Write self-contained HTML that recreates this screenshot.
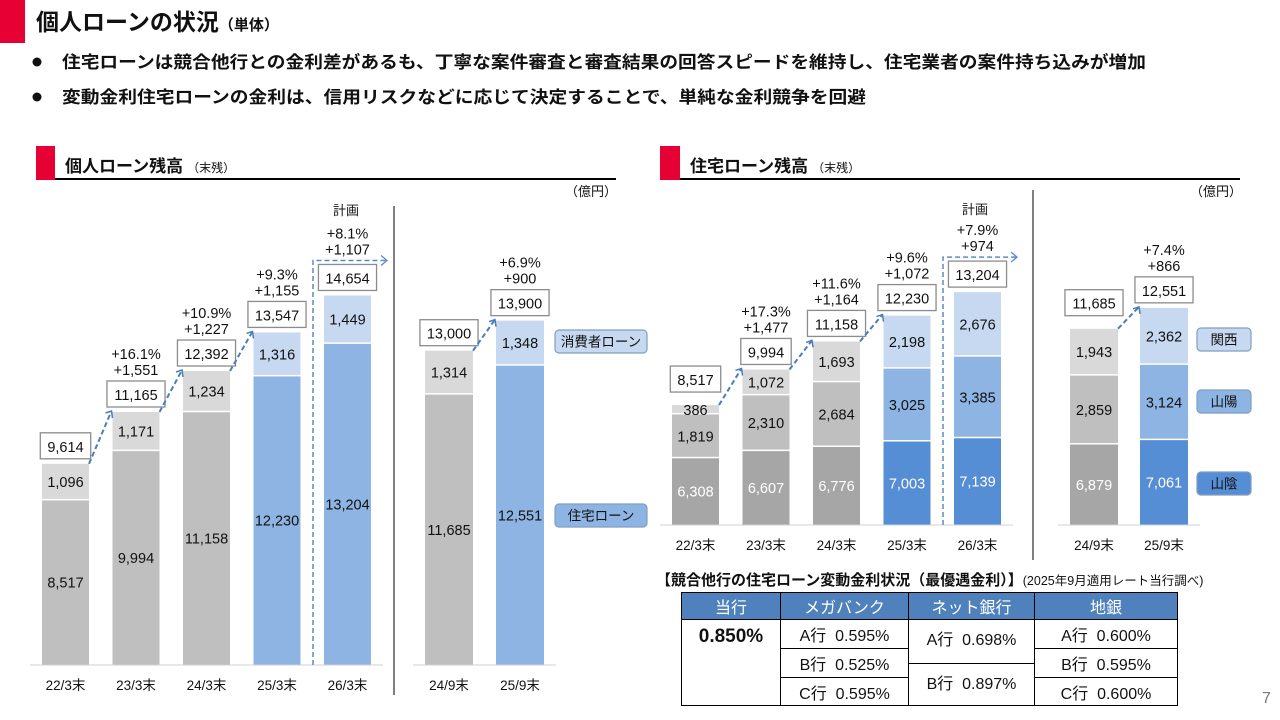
<!DOCTYPE html>
<html><head><meta charset="utf-8">
<style>
body{margin:0;width:1280px;height:720px;overflow:hidden;background:#fff;font-family:"Liberation Sans","Noto Sans CJK JP",sans-serif;}
svg{position:absolute;left:0;top:0}
.cell{position:absolute;box-sizing:border-box;border:1px solid #000;display:flex;align-items:center;justify-content:center;font-size:16px;color:#111;background:#fff}
.hd{background:#4f81bd;color:#fff;font-size:16px}
</style></head>
<body>
<svg id="s" width="1280" height="720" viewBox="0 0 1280 720" font-family="Liberation Sans, Noto Sans CJK JP, sans-serif">
<rect x="0" y="0" width="25" height="43" fill="#e60033"/>
<text x="36" y="30" font-size="23" font-weight="bold" fill="#111">個人ローンの状況<tspan font-size="15">（単体）</tspan></text>
<circle cx="37" cy="62" r="4.5" fill="#111"/>
<text x="62" y="68" font-size="17" font-weight="bold" fill="#111" textLength="1084" lengthAdjust="spacingAndGlyphs">住宅ローンは競合他行との金利差があるも、丁寧な案件審査と審査結果の回答スピードを維持し、住宅業者の案件持ち込みが増加</text>
<circle cx="37" cy="97" r="4.5" fill="#111"/>
<text x="62" y="103" font-size="17" font-weight="bold" fill="#111" textLength="804" lengthAdjust="spacingAndGlyphs">変動金利住宅ローンの金利は、信用リスクなどに応じて決定することで、単純な金利競争を回避</text>

<rect x="36" y="146" width="19" height="34" fill="#e60033"/>
<line x1="55" y1="179" x2="616" y2="179" stroke="#000" stroke-width="2"/>
<text x="65" y="172" font-size="17" font-weight="bold" fill="#111">個人ローン残高<tspan font-size="12" font-weight="normal" dx="4">（末残）</tspan></text>
<text x="617" y="196" font-size="13" text-anchor="end" fill="#111">（億円）</text>
<text x="346" y="215" font-size="13" text-anchor="middle" fill="#111">計画</text>
<line x1="394" y1="206" x2="394" y2="695" stroke="#808080" stroke-width="2"/>

<rect x="660" y="146" width="20" height="34" fill="#e60033"/>
<line x1="680" y1="179" x2="1240" y2="179" stroke="#000" stroke-width="2"/>
<text x="690" y="172" font-size="17" font-weight="bold" fill="#111">住宅ローン残高<tspan font-size="12" font-weight="normal" dx="4">（末残）</tspan></text>
<text x="1242" y="196" font-size="13" text-anchor="end" fill="#111">（億円）</text>
<text x="975" y="214" font-size="13" text-anchor="middle" fill="#111">計画</text>
<line x1="1033" y1="190" x2="1033" y2="560" stroke="#808080" stroke-width="2"/>

<text x="1262" y="703" font-size="16" fill="#777">7</text>
<text x="656" y="585" font-size="15" font-weight="bold" fill="#111">【競合他行の住宅ローン変動金利状況（最優遇金利）】<tspan font-size="12.5" font-weight="normal">(2025年9月適用レート当行調べ)</tspan></text>
</svg>

<div class="cell hd" style="left:681px;top:592px;width:100px;height:28px">当行</div>
<div class="cell hd" style="left:780px;top:592px;width:129px;height:28px">メガバンク</div>
<div class="cell hd" style="left:908px;top:592px;width:127px;height:28px">ネット銀行</div>
<div class="cell hd" style="left:1034px;top:592px;width:144px;height:28px">地銀</div>
<div class="cell" style="left:681px;top:619px;width:100px;height:87px;align-items:flex-start;padding-top:6px;font-weight:bold;font-size:19px">0.850%</div>
<div class="cell" style="left:780px;top:619px;width:129px;height:30px">A行&nbsp;&nbsp;0.595%</div>
<div class="cell" style="left:780px;top:648px;width:129px;height:30px">B行&nbsp;&nbsp;0.525%</div>
<div class="cell" style="left:780px;top:677px;width:129px;height:29px">C行&nbsp;&nbsp;0.595%</div>
<div class="cell" style="left:908px;top:619px;width:127px;height:45px;align-items:flex-start;padding-top:6px">A行&nbsp;&nbsp;0.698%</div>
<div class="cell" style="left:908px;top:663px;width:127px;height:43px;align-items:flex-start;padding-top:6px">B行&nbsp;&nbsp;0.897%</div>
<div class="cell" style="left:1034px;top:619px;width:144px;height:30px">A行&nbsp;&nbsp;0.600%</div>
<div class="cell" style="left:1034px;top:648px;width:144px;height:30px">B行&nbsp;&nbsp;0.595%</div>
<div class="cell" style="left:1034px;top:677px;width:144px;height:29px">C行&nbsp;&nbsp;0.600%</div>

<script>
// ---- Left chart data (個人ローン残高) ----
const lCats = ['22/3末','23/3末','24/3末','25/3末','26/3末'];
const lHousing = [8517, 9994, 11158, 12230, 13204];
const lConsumer = [1096, 1171, 1234, 1316, 1449];
const lTotals = [9614, 11165, 12392, 13547, 14654];
const lPct = ['+16.1%','+10.9%','+9.3%','+8.1%'];
const lAbs = ['+1,551','+1,227','+1,155','+1,107'];
const lCats2 = ['24/9末','25/9末'];
const lHousing2 = [11685, 12551];
const lConsumer2 = [1314, 1348];
const lTotals2 = [13000, 13900];
const lPct2 = ['+6.9%'];
const lAbs2 = ['+900'];
// ---- Right chart data (住宅ローン残高) ----
const rCats = ['22/3末','23/3末','24/3末','25/3末','26/3末'];
const rSanin = [6308, 6607, 6776, 7003, 7139];
const rSanyo = [1819, 2310, 2684, 3025, 3385];
const rKansai = [386, 1072, 1693, 2198, 2676];
const rTotals = [8517, 9994, 11158, 12230, 13204];
const rPct = ['+17.3%','+11.6%','+9.6%','+7.9%'];
const rAbs = ['+1,477','+1,164','+1,072','+974'];
const rCats2 = ['24/9末','25/9末'];
const rSanin2 = [6879, 7061];
const rSanyo2 = [2859, 3124];
const rKansai2 = [1943, 2362];
const rTotals2 = [11685, 12551];
const rPct2 = ['+7.4%'];
const rAbs2 = ['+866'];

const NS = 'http://www.w3.org/2000/svg';
const svg = document.getElementById('s');
function mk(tag, attrs, name){
  const el = document.createElementNS(NS, tag);
  for (const k in attrs) el.setAttribute(k, attrs[k]);
  
  
  svg.appendChild(el);
  return el;
}
function txt(x, y, s, size, fill, name, anchor, weight){
  const t = mk('text', {x:x, y:y, 'font-size':size, fill:fill, 'text-anchor':anchor||'middle', 'font-weight':weight||'normal'}, name);
  t.textContent = s;
  return t;
}
const fmt = v => v.toLocaleString('en-US');
const gray = ['#a6a6a6','#bfbfbf','#d9d9d9'];
const blue = ['#558ed5','#8eb4e3','#c6d9f1'];

function chart(cfg){
  const y = v => cfg.base - (v - cfg.v0) * cfg.k;
  const n = cfg.cats.length;
  const tops = [], boxes = [];
  for (let i = 0; i < n; i++){
    const x = cfg.x0 + i * cfg.pitch, w = cfg.bw, cx = x + w/2;
    let cum = cfg.v0, prevY = cfg.base;
    const blueBar = cfg.blueFrom !== undefined && i >= cfg.blueFrom;
    const pal = blueBar ? cfg.bluePal : cfg.grayPal;
    for (let s = 0; s < cfg.series.length; s++){
      const v = cfg.series[s][i];
      cum = (s === 0) ? v : cum + v;
      const ty = y(cum);
      mk('rect', {x:x, y:ty, width:w, height:prevY - ty - (s===0?0:1.5), fill:pal[s]}, cfg.id + '-bar-' + i + '-seg-' + s);
      const dark = (pal[s] === '#a6a6a6' || pal[s] === '#558ed5');
      txt(cx, (ty + prevY)/2 + 5, fmt(v), cfg.fs, dark ? '#fff' : '#111', cfg.id + '-value-' + i + '-' + s);
      prevY = ty;
    }
    const top = y(cfg.totals[i]);
    tops.push(top);
    const label = fmt(cfg.totals[i]);
    const bwid = Math.max(w, label.length * cfg.fs * 0.53 + 12);
    const gap = (cfg.firstGap && i === 0) ? cfg.firstGap : 5;
    const bx = cx - bwid/2, by = top - gap - 26;
    boxes.push({x:bx, y:by, w:bwid});
    mk('rect', {x:bx, y:by, width:bwid, height:26, fill:'#fff', stroke:'#8c8c8c', 'stroke-width':1.3}, cfg.id + '-total-box-' + i);
    txt(cx, by + 19, label, cfg.fs, '#111', cfg.id + '-total-' + i);
    if (i > 0){
      const isPlan = cfg.planIdx === i;
      const lift = isPlan ? 4 : 0;
      txt(cx, by - 22 - lift, cfg.pct[i-1], cfg.fs, '#111', cfg.id + '-growth-pct-' + i);
      txt(cx, by - 6 - lift, cfg.abs[i-1], cfg.fs, '#111', cfg.id + '-growth-abs-' + i);
      const px = cfg.x0 + (i-1) * cfg.pitch + w;
      if (!isPlan){
        const ex = x - 1, ey = by + 30;
        mk('line', {x1:px, y1:tops[i-1], x2:ex, y2:ey, stroke:'#4a7ebb', 'stroke-width':2, 'stroke-dasharray':'5,3'}, cfg.id + '-growth-arrow-' + i);
        mk('path', {d:'M' + (ex-6) + ',' + (ey+2) + ' L' + ex + ',' + ey + ' L' + (ex+1) + ',' + (ey+7), fill:'none', stroke:'#4a7ebb', 'stroke-width':1.5}, cfg.id + '-arrow-head-' + i);
      }
    }
    txt(cx, cfg.base + 25, cfg.cats[i], 13.5, '#111', cfg.id + '-x-label-' + i);
  }
  mk('line', {x1:cfg.x0 - 12, y1:cfg.base, x2:cfg.x0 + (n-1)*cfg.pitch + cfg.bw + 12, y2:cfg.base, stroke:'#d0d0d0', 'stroke-width':1}, cfg.id + '-x-axis');
  if (cfg.planIdx !== undefined){
    const i = cfg.planIdx;
    const lx = cfg.x0 + i * cfg.pitch - 11, ty = boxes[i].y - 4, rx = cfg.x0 + i * cfg.pitch + cfg.bw + 16;
    mk('path', {d:'M' + lx + ',' + cfg.base + ' L' + lx + ',' + ty + ' L' + rx + ',' + ty, fill:'none', stroke:'#5b8ac6', 'stroke-width':1.5, 'stroke-dasharray':'5,3'}, cfg.id + '-plan-bracket');
    mk('path', {d:'M' + (rx-6) + ',' + (ty-5) + ' L' + rx + ',' + ty + ' L' + (rx-6) + ',' + (ty+5), fill:'none', stroke:'#5b8ac6', 'stroke-width':1.3}, cfg.id + '-plan-arrow');
  }
}

chart({id:'left-main', cats:lCats, series:[lHousing, lConsumer], totals:lTotals, pct:lPct, abs:lAbs,
  x0:42, pitch:70.5, bw:47, base:665, v0:3590, k:0.0334, fs:14.5, blueFrom:3,
  grayPal:['#bfbfbf','#d9d9d9'], bluePal:['#8eb4e3','#c6d9f1'], planIdx:4});
chart({id:'left-half', cats:lCats2, series:[lHousing2, lConsumer2], totals:lTotals2, pct:lPct2, abs:lAbs2,
  x0:425, pitch:71, bw:48, base:665, v0:3590, k:0.0334, fs:14.5, blueFrom:1,
  grayPal:['#bfbfbf','#d9d9d9'], bluePal:['#8eb4e3','#c6d9f1']});
chart({id:'right-main', cats:rCats, series:[rSanin, rSanyo, rKansai], totals:rTotals, pct:rPct, abs:rAbs,
  x0:672, pitch:70.5, bw:47, base:525, v0:3540, k:0.0241, fs:14.5, blueFrom:3, firstGap:13,
  grayPal:gray, bluePal:blue, planIdx:4});
chart({id:'right-half', cats:rCats2, series:[rSanin2, rSanyo2, rKansai2], totals:rTotals2, pct:rPct2, abs:rAbs2,
  x0:1070, pitch:70, bw:48, base:525, v0:3540, k:0.0241, fs:14.5, blueFrom:1, firstGap:13,
  grayPal:gray, bluePal:blue});

function tag(x, y, w, h, label, fill, name){
  mk('rect', {x:x, y:y, width:w, height:h, rx:4, fill:fill, stroke:'#7f9fc0', 'stroke-width':1.2}, name + '-box');
  txt(x + w/2, y + h/2 + 5, label, 13.5, '#111', name);
}
tag(555, 330, 92, 23, '消費者ローン', '#c6d9f1', 'legend-consumer-loan');
tag(555, 504, 92, 23, '住宅ローン', '#8eb4e3', 'legend-housing-loan');
tag(1197, 328, 54, 23, '関西', '#c6d9f1', 'legend-kansai');
tag(1197, 390, 54, 23, '山陽', '#8eb4e3', 'legend-sanyo');
tag(1197, 472, 54, 23, '山陰', '#558ed5', 'legend-sanin');
</script>
</body></html>
